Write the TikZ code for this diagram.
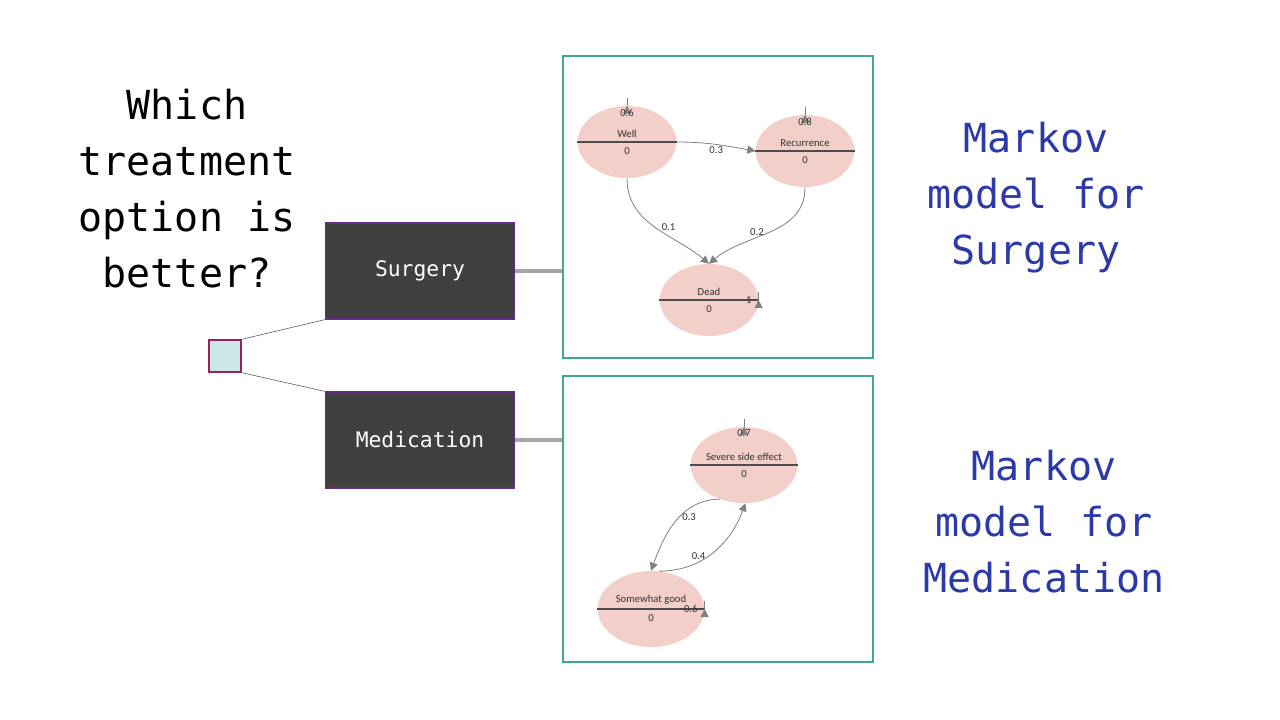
\documentclass[tikz,border=0pt]{standalone}
\usepackage{fontspec}
\setmainfont{Carlito}
\newfontfamily\monofont{DejaVu Sans Mono}
\usetikzlibrary{shapes.geometric,arrows.meta}
\definecolor{panelgreen}{HTML}{3AAA90}
\definecolor{boxgrey}{HTML}{404040}
\definecolor{boxedge}{HTML}{6A2A8A}
\definecolor{sqfill}{HTML}{CDE8E8}
\definecolor{sqedge}{HTML}{9A2060}
\definecolor{statefill}{HTML}{F2CFC8}
\definecolor{titleblue}{HTML}{2B3AA8}
\definecolor{edgegrey}{HTML}{808080}
\tikzset{
  state/.style={ellipse, fill=statefill, minimum width=74pt, minimum height=54pt, inner sep=0pt},
  trans/.style={draw=edgegrey, line width=0.6pt, -{Triangle[length=6pt,width=6pt]}},
  prob/.style={font=\fontsize{8}{9}\selectfont, text=black!80, inner sep=1pt},
  option/.style={draw=boxedge, line width=1pt, fill=boxgrey, minimum width=142pt, minimum height=72pt, text=white, font=\monofont\fontsize{16}{18}\selectfont},
  panel/.style={draw=panelgreen, line width=1.5pt, fill=white},
  big/.style={font=\monofont\fontsize{30}{42}\selectfont, align=center}
}
\begin{document}
\begin{tikzpicture}[x=0.75pt,y=-0.75pt]
  \useasboundingbox (0,0) rectangle (1280,720);
  % Question and decision
  \node[big] (question) at (187,189) {Which\\treatment\\option is\\better?};
  \node[draw=sqedge, fill=sqfill, line width=1pt, minimum size=24pt, inner sep=0pt] (decision) at (225,356) {};
  \node[option] (surgery) at (420,271) {Surgery};
  \node[option] (medication) at (420,440) {Medication};
  \draw[black!70] (decision.north east) -- (surgery.south west);
  \draw[black!70] (decision.south east) -- (medication.north west);

  % Panels
  \node[panel, minimum width=232pt, minimum height=226pt] (panelA) at (718,207) {};
  \node[panel, minimum width=232pt, minimum height=214pt] (panelB) at (718,519) {};
  \draw[black!35, line width=3pt] (surgery.east) -- (panelA.west |- surgery.east);
  \draw[black!35, line width=3pt] (medication.east) -- (panelB.west |- medication.east);

  % Surgery states
  \foreach \n/\x/\y/\t in {well/627/142/Well, recur/805/151/Recurrence, dead/709/300/Dead}{
    \node[state] (\n) at (\x,\y) {};
    \draw[black!70, line width=0.8pt] (\n.west) -- (\n.east);
    \node[prob, above=2pt] (\n-name) at (\n.center) {\t};
    \node[prob, below=3pt] (\n-cost) at (\n.center) {0};
  }
  \draw[trans] (well.east) to[out=0,in=170] node[prob, below, pos=0.5] (pWR) {0.3} (recur.west);
  \draw[trans] (well.south) to[out=-90,in=140] node[prob, pos=0.5, right=4pt] (pWD) {0.1} (dead.north);
  \draw[trans] (recur.south) to[out=-90,in=40] node[prob, pos=0.5, left=4pt] (pRD) {0.2} (dead.north);
  \draw[trans] (well.north) to[out=150,in=30,looseness=4] node[prob, below=1pt] (pWW) {0.6} (well.north);
  \draw[trans] (recur.north) to[out=150,in=30,looseness=4] node[prob, below=1pt] (pRR) {0.8} (recur.north);
  \draw[trans] (dead.east) to[out=40,in=-40,looseness=5] node[prob, left=4pt] (pDD) {1} (dead.east);

  % Medication states
  \foreach \n/\x/\y/\t in {severe/744/465/Severe side effect, good/651/609/Somewhat good}{
    \node[state, minimum width=80pt, minimum height=57pt] (\n) at (\x,\y) {};
    \draw[black!70, line width=0.8pt] (\n.west) -- (\n.east);
    \node[prob, above=2pt] (\n-name) at (\n.center) {\t};
    \node[prob, below=3pt] (\n-cost) at (\n.center) {0};
  }
  \draw[trans] (severe.-125) to[out=180,in=70] node[prob, pos=0.45, right=1pt] (pSG) {0.3} (good.north);
  \draw[trans] (good.78) to[out=0,in=-110] node[prob, pos=0.45, left=1pt] (pGS) {0.4} (severe.-88);
  \draw[trans] (severe.north) to[out=150,in=30,looseness=4] node[prob, below=1pt] (pSS) {0.7} (severe.north);
  \draw[trans] (good.east) to[out=40,in=-40,looseness=5] node[prob, left=4pt] (pGG) {0.6} (good.east);

  % Titles
  \node[big, text=titleblue] (titleA) at (1036,198) {Markov\\model for\\Surgery};
  \node[big, text=titleblue] (titleB) at (1044,522) {Markov\\model for\\Medication};
\end{tikzpicture}
\end{document}
